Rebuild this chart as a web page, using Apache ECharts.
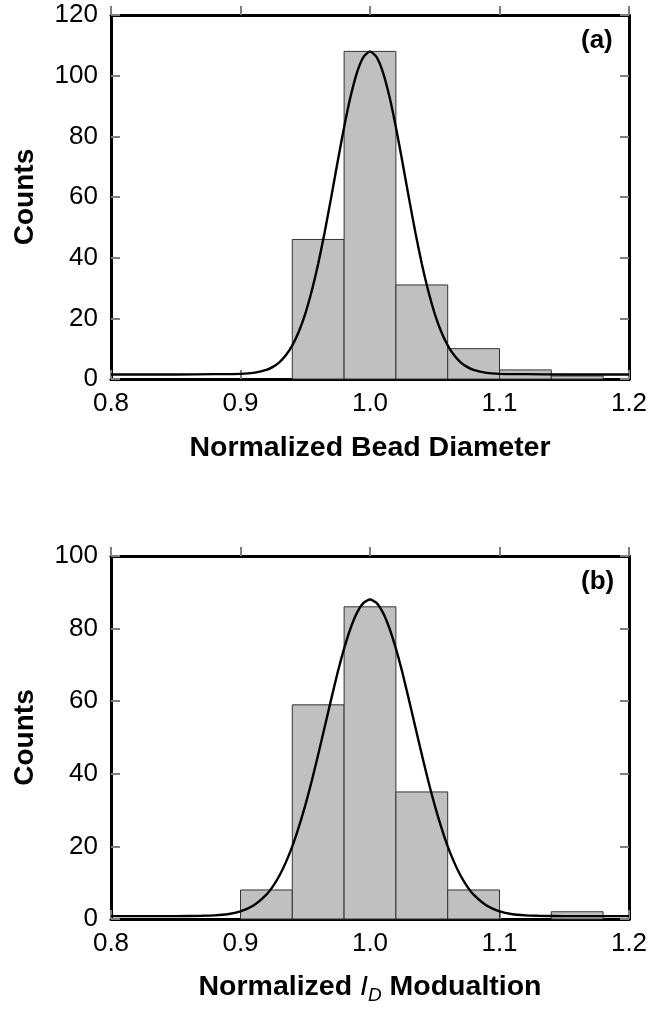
<!DOCTYPE html>
<html>
<head>
<meta charset="utf-8">
<script src="https://cdn.jsdelivr.net/npm/echarts@6/dist/echarts.min.js"></script>
<style>
html,body{margin:0;padding:0;background:#fff;}
#chart{width:652px;height:1012px;}
</style>
</head>
<body>
<div id="chart"></div>
<script>
// ---- Data ----
const binWidth = 0.04;
const binStartsA = [0.94, 0.98, 1.02, 1.06, 1.10, 1.14];
const countsA = [46, 108, 31, 10, 3, 1];
const binStartsB = [0.90, 0.94, 0.98, 1.02, 1.06, 1.14];
const countsB = [8, 59, 86, 35, 8, 2];

const curveAX = [0.80, 0.85, 0.88, 0.90, 0.91, 0.92, 0.925, 0.93, 0.935, 0.94, 0.945, 0.95, 0.955, 0.96, 0.965, 0.97, 0.975, 0.98, 0.985, 0.99, 0.995, 1.00,
  1.005, 1.01, 1.015, 1.02, 1.025, 1.03, 1.035, 1.04, 1.045, 1.05, 1.055, 1.06, 1.065, 1.07, 1.075, 1.08, 1.09, 1.10, 1.12, 1.15, 1.20];
const curveAY = [1.5, 1.5, 1.6, 1.7, 2.0, 3.0, 4.0, 5.5, 7.8, 11.1, 15.6, 21.5, 29.0, 38.0, 48.4, 59.8, 71.6, 83.0, 93.1, 101.1, 106.2, 108.0,
  106.2, 101.1, 93.1, 83.0, 71.6, 59.8, 48.4, 38.0, 29.0, 21.5, 15.6, 11.1, 7.8, 5.5, 4.0, 3.0, 2.0, 1.7, 1.6, 1.5, 1.5];

const curveBX = [0.80, 0.85, 0.87, 0.88, 0.89, 0.90, 0.91, 0.92, 0.925, 0.93, 0.935, 0.94, 0.945, 0.95, 0.955, 0.96, 0.965, 0.97, 0.975, 0.98, 0.985, 0.99, 0.995, 1.00,
  1.005, 1.01, 1.015, 1.02, 1.025, 1.03, 1.035, 1.04, 1.045, 1.05, 1.055, 1.06, 1.065, 1.07, 1.075, 1.08, 1.09, 1.10, 1.11, 1.12, 1.13, 1.15, 1.20];
const curveBY = [0.8, 0.8, 0.9, 1.0, 1.3, 2.1, 3.7, 6.7, 9.0, 11.9, 15.6, 20.0, 25.3, 31.3, 38.0, 45.3, 52.9, 60.5, 67.9, 74.5, 80.1, 84.4, 87.1, 88.0,
  87.1, 84.4, 80.1, 74.5, 67.9, 60.5, 52.9, 45.3, 38.0, 31.3, 25.3, 20.0, 15.6, 11.9, 9.0, 6.7, 3.7, 2.1, 1.3, 1.0, 0.9, 0.8, 0.8];

const yMaxA = 120, yMaxB = 100;

// ---- Chart ----
const FONT = "'Liberation Sans', Arial, sans-serif";
const chart = echarts.init(document.getElementById('chart'), null, {renderer: 'canvas'});

function zip(xs, ys) { return xs.map((x, i) => [x, ys[i]]); }
function bins(starts, counts) { return starts.map((s, i) => [s, s + binWidth, counts[i]]); }

function renderBar(params, api) {
  const p0 = api.coord([api.value(0), 0]);
  const p1 = api.coord([api.value(1), api.value(2)]);
  return {
    type: 'rect',
    shape: {x: p0[0], y: p1[1], width: p1[0] - p0[0], height: p0[1] - p1[1]},
    style: {fill: '#c0c0c0', stroke: '#333', lineWidth: 1}
  };
}

function tick(inside) { return {show: true, inside: inside, length: 9, lineStyle: {color: '#7f7f7f', width: 2}}; }
function aline() { return {show: true, onZero: false, lineStyle: {color: '#000', width: 3}}; }
function lab(extra) { return Object.assign({fontSize: 26, color: '#000', fontFamily: FONT}, extra); }

function xAxes(gridIndex, nameText, gap, rich) {
  return [
    {
      type: 'value', gridIndex: gridIndex, position: 'bottom',
      min: 0.8, max: 1.2, interval: 0.1,
      axisLine: aline(), axisTick: tick(true), splitLine: {show: false},
      axisLabel: lab({margin: 12, formatter: v => v.toFixed(1)}),
      name: nameText, nameLocation: 'middle', nameGap: gap,
      nameTextStyle: Object.assign({fontSize: 28.5, fontWeight: 'bold', color: '#000', fontFamily: FONT}, rich ? {rich: rich} : {})
    },
    {
      type: 'value', gridIndex: gridIndex, position: 'top',
      min: 0.8, max: 1.2, interval: 0.1,
      axisLine: aline(), axisTick: tick(false), splitLine: {show: false},
      axisLabel: {show: false}
    }
  ];
}
function yAxes(gridIndex, maxV) {
  return [
    {
      type: 'value', gridIndex: gridIndex, position: 'left',
      min: 0, max: maxV, interval: 20,
      axisLine: aline(), axisTick: tick(true), splitLine: {show: false},
      axisLabel: lab({margin: 13}),
      name: 'Counts', nameLocation: 'middle', nameGap: 72,
      nameTextStyle: {fontSize: 28, fontWeight: 'bold', color: '#000', fontFamily: FONT}
    },
    {
      type: 'value', gridIndex: gridIndex, position: 'right',
      min: 0, max: maxV, interval: 20,
      axisLine: aline(), axisTick: tick(true), splitLine: {show: false},
      axisLabel: {show: false}
    }
  ];
}

const richB = {
  n: {fontSize: 28.5, fontWeight: 'bold', fontFamily: FONT, color: '#000'},
  i: {fontSize: 28.5, fontStyle: 'italic', fontWeight: 'normal', fontFamily: FONT, color: '#000'},
  sub: {fontSize: 19, fontStyle: 'italic', fontWeight: 'normal', fontFamily: FONT, color: '#000', padding: [16, 0, 0, 0]}
};

const option = {
  backgroundColor: '#fff',
  animation: false,
  grid: [
    {left: 111, width: 518, top: 15, height: 364},
    {left: 111, width: 518, top: 556, height: 363}
  ],
  xAxis: [].concat(xAxes(0, 'Normalized Bead Diameter', 55), xAxes(1, '{n|Normalized }{i|I}{sub|D}{n| Modualtion}', 51, richB)),
  yAxis: [].concat(yAxes(0, yMaxA), yAxes(1, yMaxB)),
  graphic: [
    {type: 'text', left: 581, top: 28, style: {text: '(a)', font: 'bold 26px ' + FONT, fill: '#000'}},
    {type: 'text', left: 581, top: 569, style: {text: '(b)', font: 'bold 26px ' + FONT, fill: '#000'}}
  ],
  series: [
    {type: 'custom', xAxisIndex: 0, yAxisIndex: 0, renderItem: renderBar, data: bins(binStartsA, countsA), z: 2},
    {type: 'line', xAxisIndex: 0, yAxisIndex: 0, data: zip(curveAX, curveAY), showSymbol: false, symbol: 'none', smooth: 0.2,
     lineStyle: {color: '#000', width: 2.4}, z: 3},
    {type: 'custom', xAxisIndex: 2, yAxisIndex: 2, renderItem: renderBar, data: bins(binStartsB, countsB), z: 2},
    {type: 'line', xAxisIndex: 2, yAxisIndex: 2, data: zip(curveBX, curveBY), showSymbol: false, symbol: 'none', smooth: 0.2,
     lineStyle: {color: '#000', width: 2.4}, z: 3}
  ]
};
chart.setOption(option);
</script>
</body>
</html>
